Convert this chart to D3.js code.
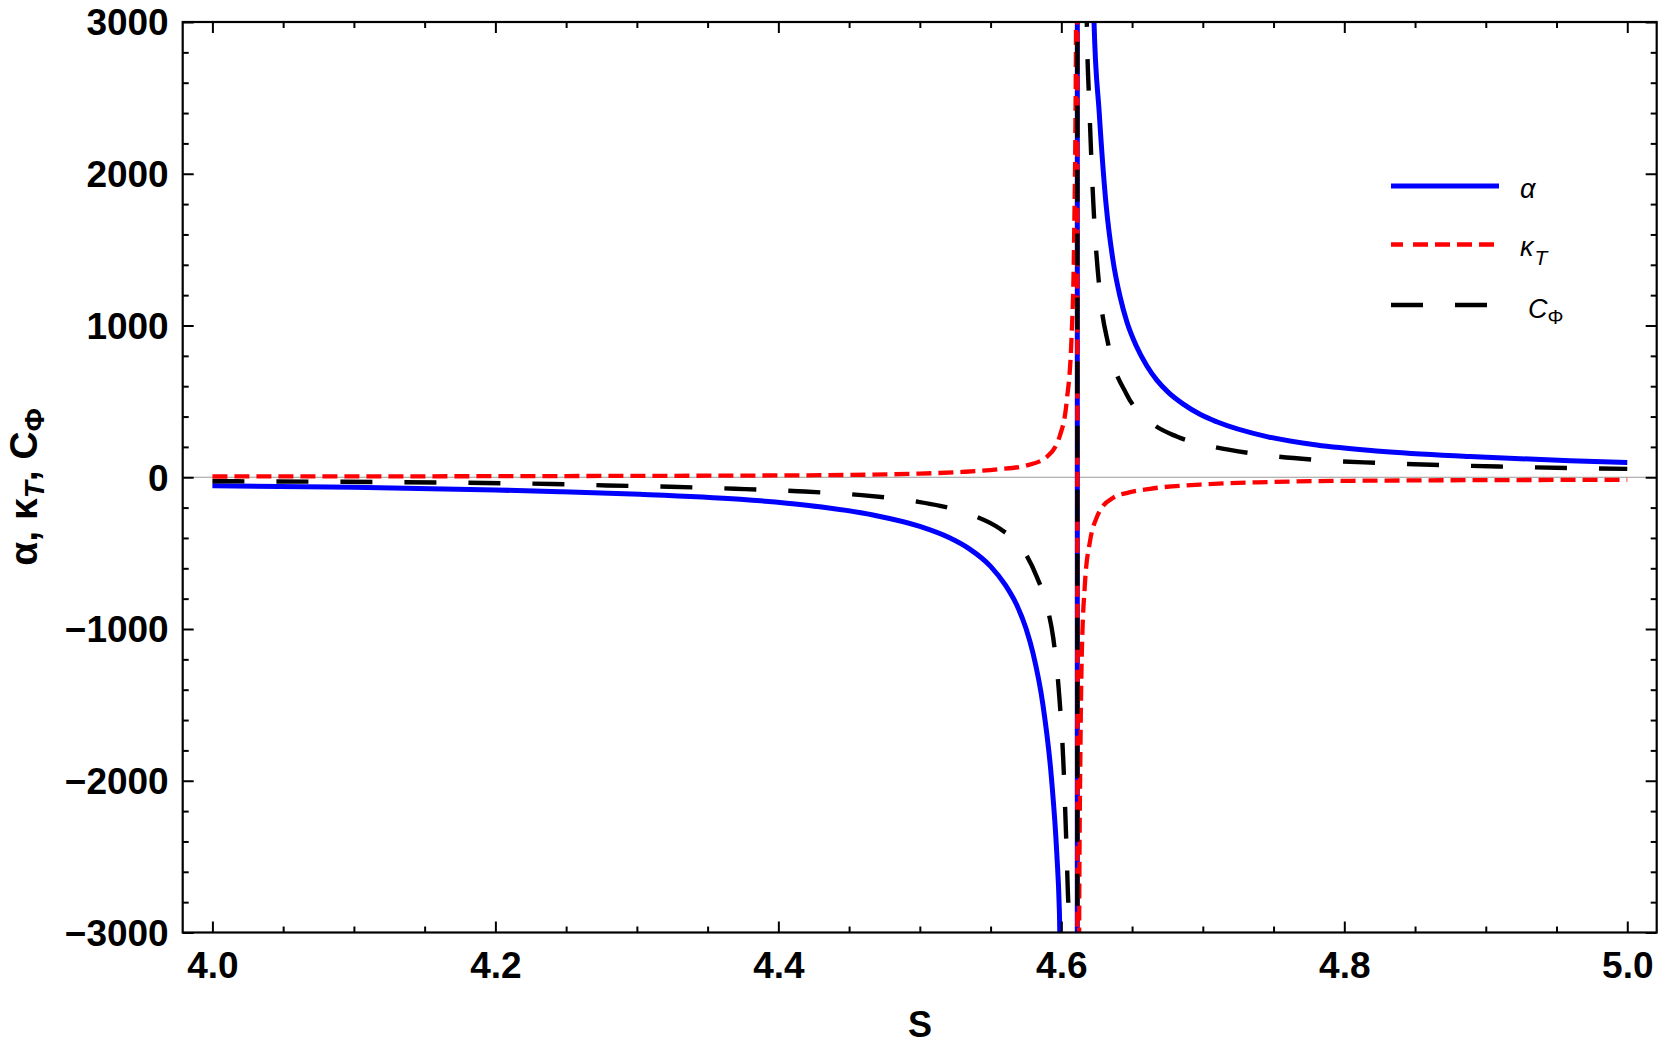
<!DOCTYPE html>
<html>
<head>
<meta charset="utf-8">
<script src="https://cdn.jsdelivr.net/npm/d3@7"></script>
<style>
  html, body { margin: 0; padding: 0; background: #fff; }
  svg { display: block; }
  text { font-family: "Liberation Sans", Arial, sans-serif; }
</style>
</head>
<body>
<script>
// ---------- data ----------
// the pair of +-20000 points at S≈4.6113 is the jump across the pole (drawn as a vertical line)
const alphaS = [4.0, 4.1, 4.2, 4.2457, 4.302, 4.373, 4.420, 4.467, 4.500, 4.521, 4.535, 4.550, 4.5605, 4.5685, 4.575, 4.580, 4.587, 4.593, 4.5968, 4.5986, 4.61125, 4.61135, 4.6231, 4.6268, 4.6316, 4.6365, 4.6415, 4.6463, 4.653, 4.6604, 4.6675, 4.676, 4.6862, 4.698, 4.7098, 4.7452, 4.7805, 4.8252, 4.8888, 4.9595, 5.0];
const alphaV = [-56, -66, -84, -95, -112, -145, -184, -249, -324, -399, -472, -587, -711, -842, -995, -1160, -1500, -1980, -2480, -2850, -20000, 20000, 3000, 2400, 1800, 1430, 1190, 1025, 865, 735, 640, 556, 482, 415, 366, 268, 212, 172, 137, 108, 97];

const kappaS = [4.0, 4.25, 4.42, 4.5, 4.53, 4.555, 4.5755, 4.5897, 4.599, 4.6038, 4.6073, 4.609, 4.6104, 4.61125, 4.61135, 4.6126, 4.6135, 4.6144, 4.6167, 4.6203, 4.625, 4.6273, 4.6367, 4.648, 4.6627, 4.698, 4.7452, 4.8252, 5.0];
const kappaV = [5, 8, 13, 24, 35, 52, 78, 134, 275, 500, 940, 1550, 3000, 20000, -20000, -3000, -1800, -1200, -700, -420, -265, -220, -135, -100, -76, -48, -32, -22, -17];

const cphiS = [4.0, 4.24, 4.2787, 4.3235, 4.3694, 4.4139, 4.4589, 4.4978, 4.5143, 4.5379, 4.5567, 4.5743, 4.5826, 4.5908, 4.5943, 4.5986, 4.6014, 4.6031, 4.6045, 4.6054, 4.61125, 4.61135, 4.6180, 4.6198, 4.6226, 4.6274, 4.6333, 4.6462, 4.6615, 4.6816, 4.7028, 4.7357, 4.7805, 4.8252, 4.9121, 5.0];
const cphiV = [-26, -44, -54, -63, -76, -92, -118, -160, -188, -252, -340, -497, -655, -885, -1060, -1448, -1870, -2290, -2700, -3000, -20000, 20000, 3000, 2450, 1810, 1200, 870, 545, 375, 268, 211, 156, 114, 94, 70, 55];

const xTickValues = [4.0, 4.2, 4.4, 4.6, 4.8, 5.0];
const xTickLabels = ["4.0", "4.2", "4.4", "4.6", "4.8", "5.0"];
const yTickValues = [-3000, -2000, -1000, 0, 1000, 2000, 3000];
const yTickLabels = ["\u22123000", "\u22122000", "\u22121000", "0", "1000", "2000", "3000"];
const xMinorStep = 0.05;
const yMinorStep = 200;

// ---------- layout ----------
const W = 1661, H = 1049;
const L = 182.7, R = 1656.7, T = 22, B = 932.5;

const svg = d3.select("body").append("svg").attr("width", W).attr("height", H);

const x = d3.scaleLinear().domain([3.979, 5.0208]).range([L, R]);
const y = d3.scaleLinear().domain([-3000, 3000]).range([B, T]);

svg.append("defs").append("clipPath").attr("id", "plotclip")
  .append("rect").attr("x", L).attr("y", T).attr("width", R - L).attr("height", B - T);

// zero line
svg.append("line")
  .attr("x1", L).attr("x2", R).attr("y1", y(0)).attr("y2", y(0))
  .attr("stroke", "#9a9a9a").attr("stroke-width", 1.2);

// ---------- series ----------
const series = [
  { name: "alpha", S: alphaS, V: alphaV, color: "#0000ff", dash: null, width: 5 },
  { name: "kappa", S: kappaS, V: kappaV, color: "#ff0000", dash: "15,7", width: 4.3 },
  { name: "cphi",  S: cphiS,  V: cphiV,  color: "#000000", dash: "32,32", width: 4.4 }
];

const line = d3.line()
  .x(d => x(d[0])).y(d => y(d[1]))
  .curve(d3.curveMonotoneX);

const gPlot = svg.append("g").attr("clip-path", "url(#plotclip)");
series.forEach(s => {
  const pts = s.S.map((v, i) => [v, s.V[i]]);
  gPlot.append("path")
    .attr("d", line(pts))
    .attr("fill", "none")
    .attr("stroke", s.color)
    .attr("stroke-width", s.width)
    .attr("stroke-dasharray", s.dash)
    .attr("stroke-linejoin", "round");
});

// ---------- axes / frame ----------
const frameColor = "#000";
const majorLen = 11, minorLen = 6;
const xMinor = d3.range(4.0, 5.0001, xMinorStep).filter(v => !xTickValues.some(t => Math.abs(t - v) < 1e-6));
const yMinor = d3.range(-3000, 3001, yMinorStep).filter(v => !yTickValues.includes(v));

function styleTicks(g) {
  g.select(".domain").remove();
  g.selectAll("line").attr("stroke", frameColor).attr("stroke-width", 2);
}

const gxb = svg.append("g").attr("transform", `translate(0,${B})`)
  .call(d3.axisBottom(x).tickValues(xTickValues).tickFormat((d, i) => xTickLabels[i])
    .tickSizeInner(-majorLen).tickSizeOuter(0).tickPadding(19));
styleTicks(gxb);
gxb.selectAll("text").attr("font-size", 37).attr("font-weight", "bold").attr("fill", "#000");

styleTicks(svg.append("g").attr("transform", `translate(0,${B})`)
  .call(d3.axisBottom(x).tickValues(xMinor).tickFormat("").tickSizeInner(-minorLen).tickSizeOuter(0)));
styleTicks(svg.append("g").attr("transform", `translate(0,${T})`)
  .call(d3.axisTop(x).tickValues(xTickValues).tickFormat("").tickSizeInner(-majorLen).tickSizeOuter(0)));
styleTicks(svg.append("g").attr("transform", `translate(0,${T})`)
  .call(d3.axisTop(x).tickValues(xMinor).tickFormat("").tickSizeInner(-minorLen).tickSizeOuter(0)));

const gyl = svg.append("g").attr("transform", `translate(${L},0)`)
  .call(d3.axisLeft(y).tickValues(yTickValues).tickFormat((d, i) => yTickLabels[i])
    .tickSizeInner(-majorLen).tickSizeOuter(0).tickPadding(14));
styleTicks(gyl);
gyl.selectAll("text").attr("font-size", 37).attr("font-weight", "bold").attr("fill", "#000")
  .attr("dy", "0.35em");

styleTicks(svg.append("g").attr("transform", `translate(${L},0)`)
  .call(d3.axisLeft(y).tickValues(yMinor).tickFormat("").tickSizeInner(-minorLen).tickSizeOuter(0)));
styleTicks(svg.append("g").attr("transform", `translate(${R},0)`)
  .call(d3.axisRight(y).tickValues(yTickValues).tickFormat("").tickSizeInner(-majorLen).tickSizeOuter(0)));
styleTicks(svg.append("g").attr("transform", `translate(${R},0)`)
  .call(d3.axisRight(y).tickValues(yMinor).tickFormat("").tickSizeInner(-minorLen).tickSizeOuter(0)));

// frame
svg.append("rect").attr("x", L).attr("y", T).attr("width", R - L).attr("height", B - T)
  .attr("fill", "none").attr("stroke", frameColor).attr("stroke-width", 2.2);

// ---------- axis titles ----------
svg.append("text").attr("x", 920).attr("y", 1037).attr("text-anchor", "middle")
  .attr("font-size", 36).attr("font-weight", "bold").text("S");

const yl = svg.append("text")
  .attr("transform", `translate(37,487) rotate(-90)`)
  .attr("text-anchor", "middle").attr("font-size", 39).attr("font-weight", "bold");
yl.append("tspan").text("\u03b1, \u03ba");
yl.append("tspan").attr("font-style", "italic").attr("font-size", 28).attr("dy", 7).text("T");
yl.append("tspan").attr("dy", -7).text(", C");
yl.append("tspan").attr("font-size", 28).attr("dy", 7).text("\u03a6");

// ---------- legend ----------
const legX1 = 1391, legX2 = 1499;
const legY = [186, 244.5, 305];
series.forEach((s, i) => {
  svg.append("line").attr("x1", legX1).attr("x2", legX2).attr("y1", legY[i]).attr("y2", legY[i])
    .attr("stroke", s.color).attr("stroke-width", s.width)
    .attr("stroke-dasharray", s.name === "kappa" ? "12,10,15,7,15,7,15,7,15,7" : s.dash);
});
svg.append("text").attr("x", 1520).attr("y", 198).attr("font-size", 27).attr("font-style", "italic")
  .text("\u03b1");
const t2 = svg.append("text").attr("x", 1520).attr("y", 256).attr("font-size", 27).attr("font-style", "italic");
t2.append("tspan").text("\u03ba");
t2.append("tspan").attr("font-size", 21).attr("dy", 9).attr("dx", 1).text("T");
const t3 = svg.append("text").attr("x", 1528).attr("y", 318).attr("font-size", 27).attr("font-style", "italic");
t3.append("tspan").text("C");
t3.append("tspan").attr("font-size", 20).attr("font-style", "normal").attr("dy", 6).text("\u03a6");
</script>
</body>
</html>
